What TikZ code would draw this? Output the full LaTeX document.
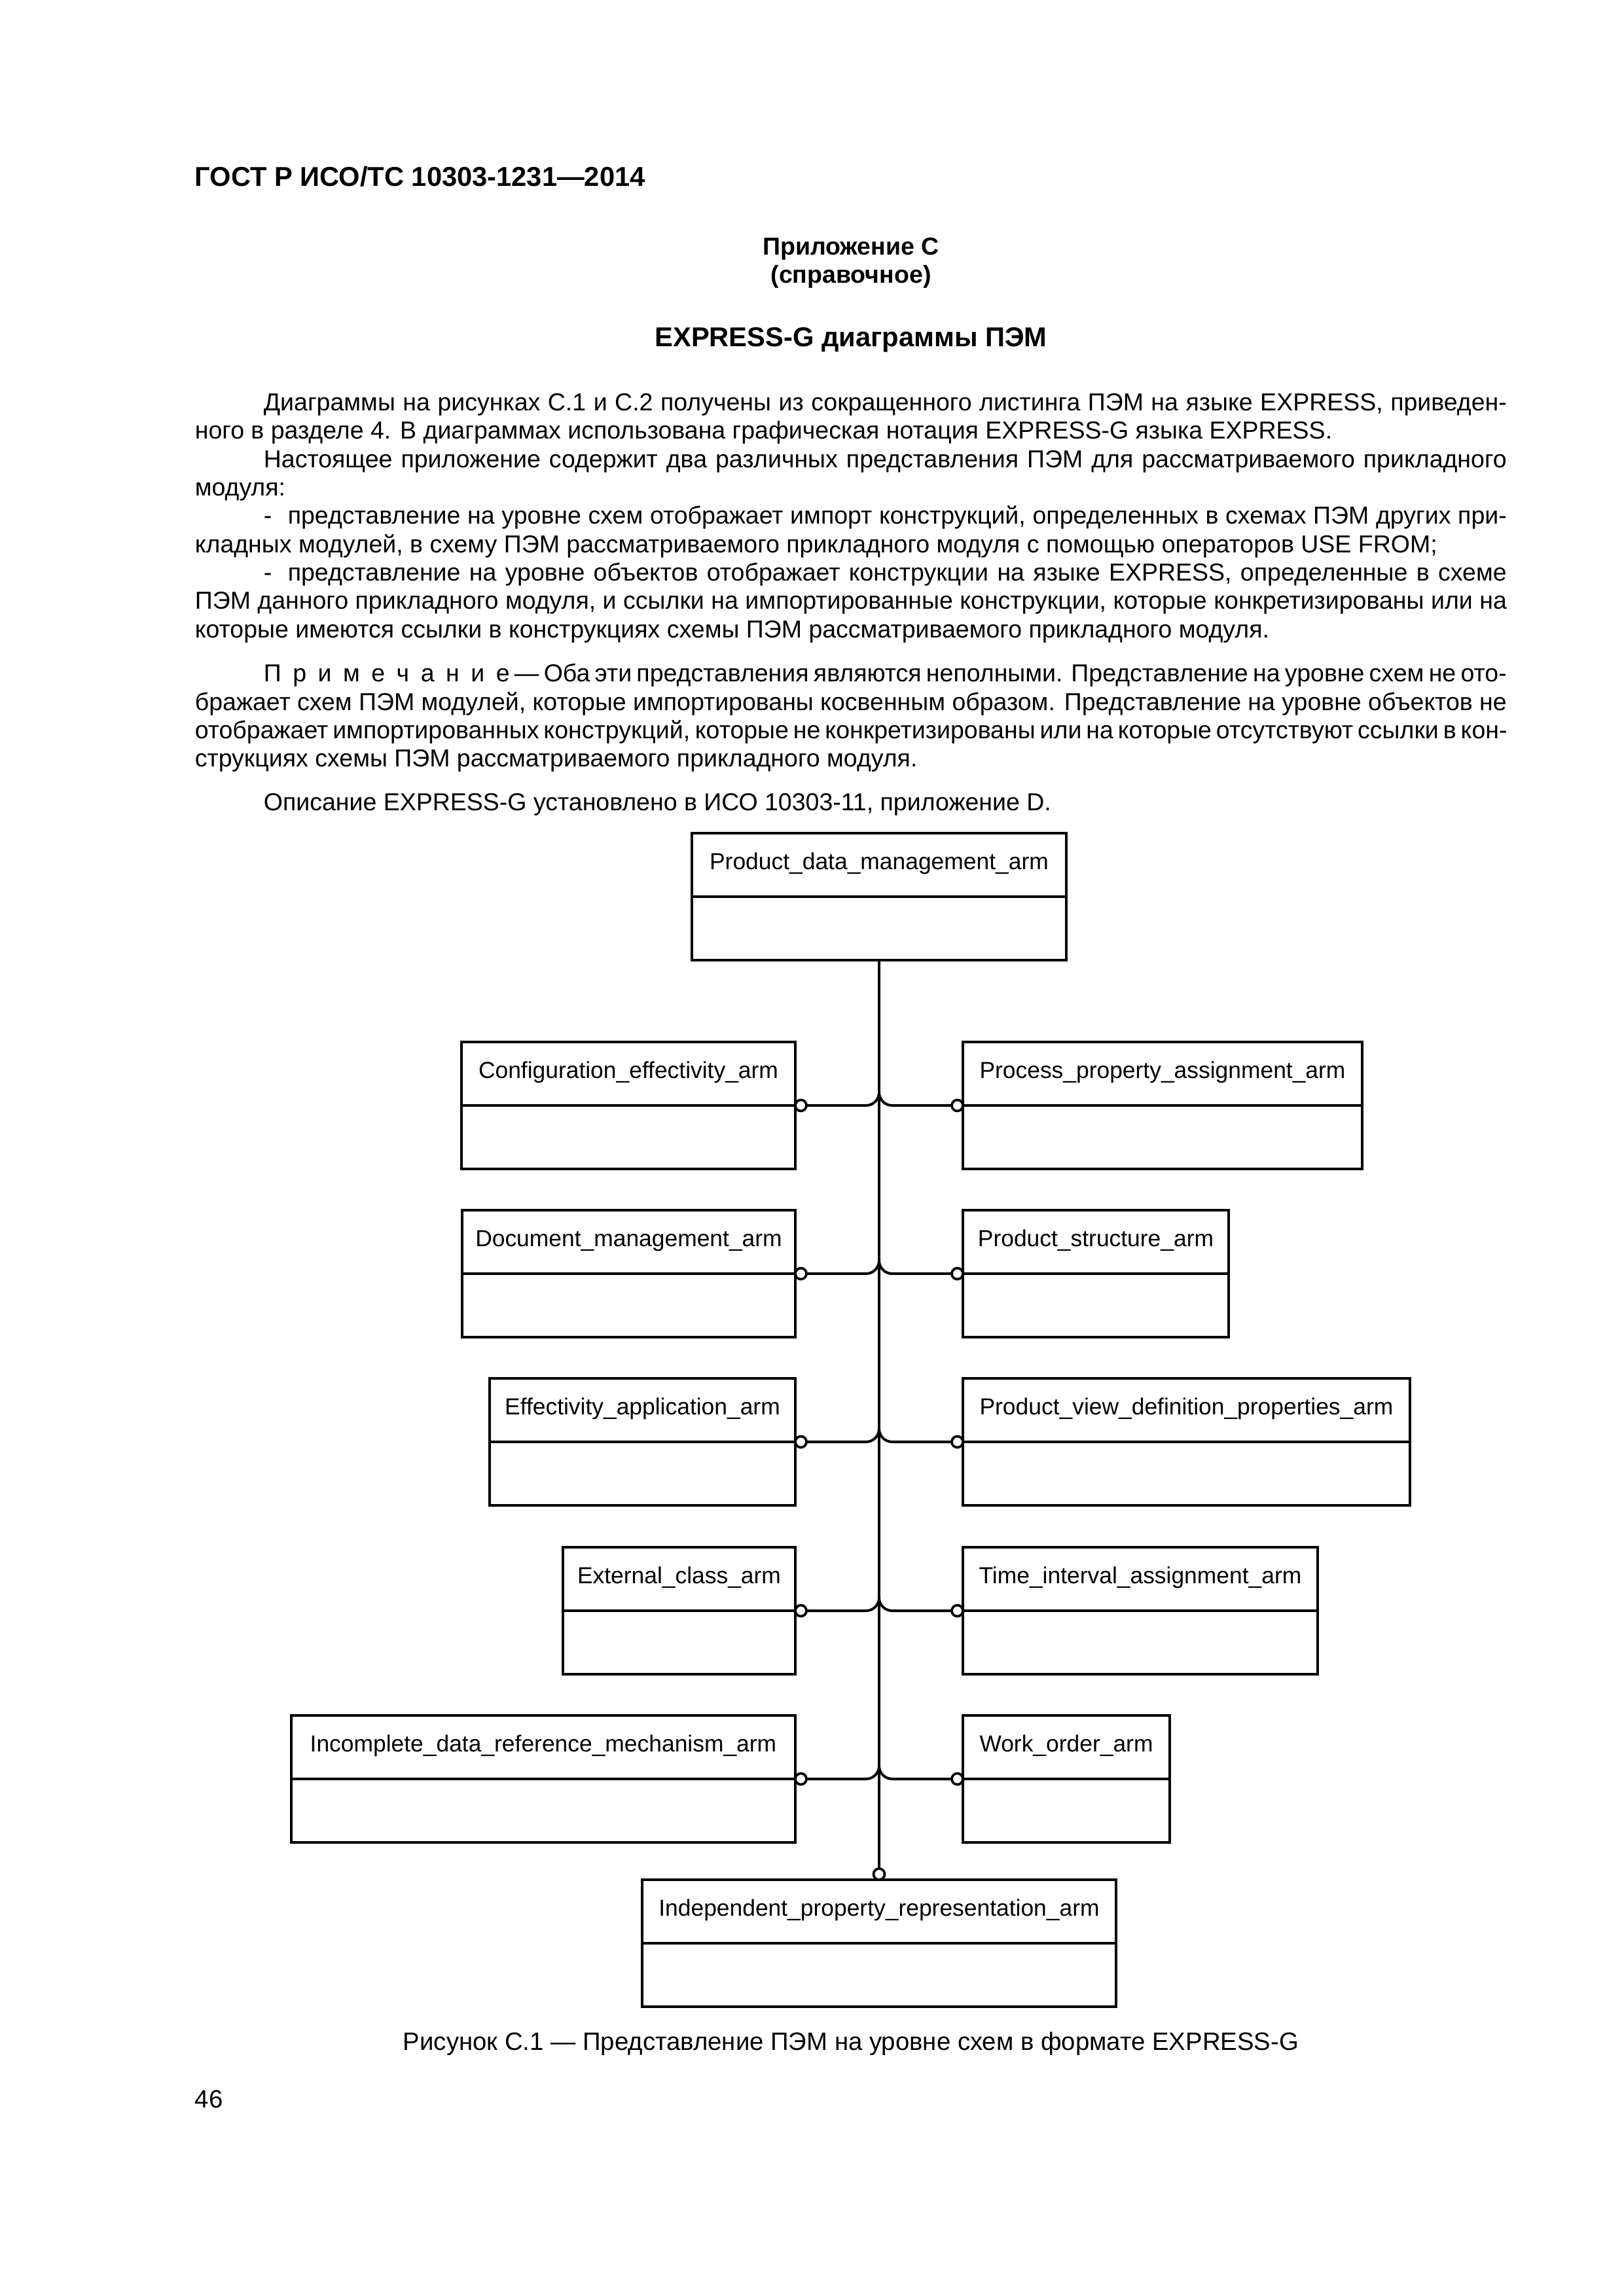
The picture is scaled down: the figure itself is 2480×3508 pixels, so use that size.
\documentclass[tikz,border=0pt]{standalone}
\usepackage{fontspec}
\setmainfont{Liberation Sans}
\usetikzlibrary{calc}
\newcommand\bodyfont{\fontsize{9pt}{11pt}\selectfont}
\newcommand\capfont{\fontsize{9.2pt}{11pt}\selectfont}
\newcommand\lblfont{\fontsize{8.5pt}{10pt}\selectfont}
\newcommand\hdfont{\fontsize{10pt}{12pt}\selectfont\bfseries}
\newcommand\apfont{\fontsize{9pt}{11pt}\selectfont\bfseries}
\newcommand\pxw[1]{\dimexpr0.24pt*#1\relax}
\newcommand\jline[4]{\node[txt] at (#1,-#2) {\makebox[\pxw{#3}][s]{#4}};}
\newcommand\nline[3]{\node[txt] at (#1,-#2) {#3};}
\newcommand\ebox[5]{%
  \node[ebox, minimum width={(#4-#2)*0.24pt}, anchor=north west] (#1) at (#2,-#3) {};
  \draw[eline] (#1.west) -- (#1.east);
  \node[lbl] (#1-t) at ($(#1.north)+(0,-55)$) {#5};
}
\newcommand\ls{\kern4.2pt}
\tikzset{
  txt/.style={anchor=base west, inner sep=0, font=\bodyfont},
  ebox/.style={draw, line width=1.1pt, minimum height={194*0.24pt}, inner sep=0, outer sep=0},
  eline/.style={line width=1.1pt},
  lbl/.style={anchor=base, inner sep=0, font=\lblfont},
  circ/.style={circle, draw, line width=0.9pt, minimum size={17*0.24pt}, inner sep=0, outer sep=0},
  conn/.style={line width=0.95pt},
  trunk/.style={line width=0.85pt},
}
\begin{document}
\begin{tikzpicture}[x=0.24pt, y=0.24pt]
\fill[white] (0,0) rectangle (2480,-3508);
\useasboundingbox (0,0) rectangle (2480,-3508);

% header and titles
\node[anchor=base west, inner sep=0, font=\hdfont] (hdr) at (297,-285) {ГОСТ Р ИСО/ТС 10303-1231—2014};
\node[anchor=base, inner sep=0, font=\apfont] (ap1) at (1300,-390) {Приложение С};
\node[anchor=base, inner sep=0, font=\apfont] (ap2) at (1300,-433) {(справочное)};
\node[anchor=base, inner sep=0, font=\hdfont] (ttl) at (1300,-530) {EXPRESS-G диаграммы ПЭМ};

% body text
\jline{402}{628}{1899}{Диаграммы на рисунках С.1 и С.2 получены из сокращенного листинга ПЭМ на языке EXPRESS, приведен-}
\nline{297}{671}{ного в разделе 4. В диаграммах использована графическая нотация EXPRESS-G языка EXPRESS.}
\jline{402}{715}{1899}{Настоящее приложение содержит два различных представления ПЭМ для рассматриваемого прикладного}
\nline{297}{758}{модуля:}
\jline{402}{801}{1899}{\makebox[\pxw{37}][l]{-}представление на уровне схем отображает импорт конструкций, определенных в схемах ПЭМ других при-}
\nline{297}{845}{кладных модулей, в схему ПЭМ рассматриваемого прикладного модуля с помощью операторов USE FROM;}
\jline{402}{888}{1899}{\makebox[\pxw{37}][l]{-}представление на уровне объектов отображает конструкции на языке EXPRESS, определенные в схеме}
\jline{297}{931}{2004}{ПЭМ данного прикладного модуля, и ссылки на импортированные конструкции, которые конкретизированы или на}
\nline{297}{974}{которые имеются ссылки в конструкциях схемы ПЭМ рассматриваемого прикладного модуля.}
\jline{402}{1041}{1899}{П\ls р\ls и\ls м\ls е\ls ч\ls а\ls н\ls и\ls е — Оба эти представления являются неполными. Представление на уровне схем не ото-}
\jline{297}{1085}{2004}{бражает схем ПЭМ модулей, которые импортированы косвенным образом. Представление на уровне объектов не}
\jline{297}{1128}{2004}{отображает импортированных конструкций, которые не конкретизированы или на которые отсутствуют ссылки в кон-}
\nline{297}{1171}{струкциях схемы ПЭМ рассматриваемого прикладного модуля.}
\nline{402}{1238}{Описание EXPRESS-G установлено в ИСО 10303-11, приложение D.}

% boxes
\ebox{pdm}{1057}{1273}{1629}{Product\_data\_management\_arm}
\ebox{cfg}{705}{1592}{1215}{Configuration\_effectivity\_arm}
\ebox{ppa}{1471}{1592}{2081}{Process\_property\_assignment\_arm}
\ebox{dmg}{706}{1849}{1215}{Document\_management\_arm}
\ebox{pst}{1471}{1849}{1877}{Product\_structure\_arm}
\ebox{eap}{748}{2106}{1215}{Effectivity\_application\_arm}
\ebox{pvd}{1471}{2106}{2154}{Product\_view\_definition\_properties\_arm}
\ebox{ecl}{860}{2364}{1215}{External\_class\_arm}
\ebox{tia}{1471}{2364}{2013}{Time\_interval\_assignment\_arm}
\ebox{idr}{445}{2621}{1215}{Incomplete\_data\_reference\_mechanism\_arm}
\ebox{wor}{1471}{2621}{1787}{Work\_order\_arm}
\ebox{ipr}{981}{2872}{1705}{Independent\_property\_representation\_arm}

% trunk
\node[circ, anchor=south] (oB) at (ipr.north) {};
\draw[trunk] (pdm.south) -- (oB.north);

% branches
\foreach \L/\R/\k in {cfg/ppa/1, dmg/pst/2, eap/pvd/3, ecl/tia/4, idr/wor/5}{
  \node[circ, anchor=west] (oL\k) at (\L.east) {};
  \node[circ, anchor=east] (oR\k) at (\R.west) {};
  \coordinate (j\k) at (pdm.south |- \L.east);
  \draw[conn] (oL\k.east) -- ($(j\k)+(-20,0)$) arc[start angle=-90, end angle=0, radius=20];
  \draw[conn] ($(j\k)+(0,20)$) arc[start angle=180, end angle=270, radius=20] -- (oR\k.west);
}

% caption and page number
\node[anchor=base, inner sep=0, font=\capfont] (cap) at (1300,-3132) {Рисунок С.1 — Представление ПЭМ на уровне схем в формате EXPRESS-G};
\node[anchor=base west, inner sep=0, font=\capfont] (pg) at (297,-3220) {46};
\end{tikzpicture}
\end{document}
